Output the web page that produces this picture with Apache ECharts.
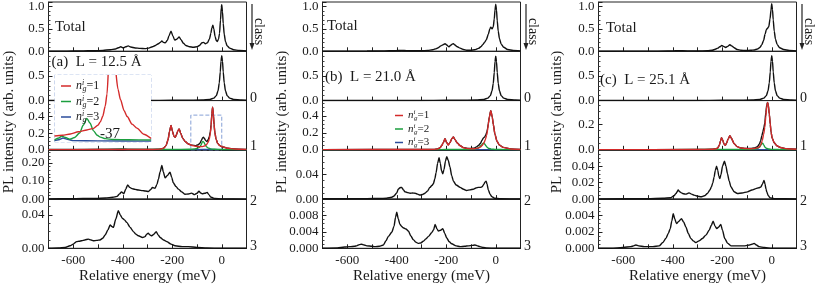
<!DOCTYPE html>
<html><head><meta charset="utf-8">
<script src="https://cdn.jsdelivr.net/npm/echarts@6/dist/echarts.min.js"></script>
<style>html,body{margin:0;padding:0;background:#fff}#c{width:817px;height:287px}</style>
</head><body><div id="c"></div>
<script>
// ---------- Panel (a) L = 12.5 Å ----------
const aTotal=[[-700,0.002],[-650,0.003],[-600,0.006],[-560,0.01],[-520,0.012],[-480,0.02],[-450,0.035],[-430,0.05],[-418,0.08],[-408,0.1],[-398,0.08],[-388,0.1],[-378,0.12],[-368,0.095],[-350,0.075],[-330,0.065],[-310,0.06],[-295,0.07],[-280,0.1],[-268,0.13],[-256,0.17],[-248,0.2],[-242,0.23],[-236,0.2],[-228,0.19],[-220,0.24],[-213,0.35],[-205,0.45],[-198,0.35],[-190,0.25],[-182,0.27],[-172,0.32],[-165,0.26],[-155,0.18],[-145,0.13],[-130,0.1],[-115,0.09],[-100,0.1],[-90,0.13],[-80,0.19],[-74,0.2],[-66,0.17],[-58,0.19],[-50,0.27],[-44,0.4],[-40,0.52],[-36,0.58],[-32,0.5],[-27,0.33],[-22,0.24],[-18,0.22],[-13,0.27],[-9,0.4],[-5,0.7],[-2,0.97],[0,1.04],[3,0.88],[6,0.62],[10,0.38],[15,0.22],[22,0.12],[32,0.07],[48,0.035],[70,0.02],[100,0.01]];
const aC0=[[-700,0.001],[-400,0.002],[-250,0.004],[-150,0.008],[-80,0.012],[-48,0.025],[-32,0.05],[-22,0.1],[-15,0.2],[-10,0.36],[-6,0.58],[-3,0.8],[0,0.91],[3,0.8],[6,0.58],[10,0.36],[15,0.2],[22,0.1],[32,0.05],[48,0.025],[80,0.012],[100,0.008]];
const aC1=[[-700,0.003],[-500,0.004],[-420,0.006],[-400,0.008],[-380,0.005],[-300,0.004],[-260,0.006],[-245,0.01],[-235,0.02],[-225,0.05],[-217,0.12],[-211,0.22],[-205,0.29],[-199,0.22],[-193,0.16],[-188,0.15],[-183,0.18],[-177,0.23],[-172,0.25],[-166,0.2],[-158,0.14],[-148,0.1],[-135,0.07],[-120,0.055],[-105,0.05],[-95,0.06],[-88,0.08],[-82,0.115],[-77,0.145],[-74,0.15],[-70,0.135],[-65,0.11],[-60,0.1],[-55,0.12],[-50,0.16],[-46,0.22],[-43,0.3],[-40,0.43],[-37,0.51],[-34,0.43],[-31,0.3],[-28,0.21],[-23,0.13],[-17,0.08],[-8,0.05],[0,0.04],[10,0.03],[25,0.018],[50,0.009],[100,0.003]];
const aN1=[[-700,0.002],[-500,0.003],[-300,0.003],[-260,0.005],[-245,0.01],[-235,0.02],[-225,0.05],[-217,0.12],[-211,0.22],[-205,0.29],[-199,0.22],[-193,0.16],[-188,0.15],[-183,0.18],[-177,0.23],[-172,0.25],[-166,0.2],[-158,0.14],[-148,0.1],[-135,0.07],[-120,0.052],[-105,0.042],[-90,0.037],[-80,0.038],[-70,0.045],[-62,0.06],[-55,0.09],[-50,0.13],[-46,0.2],[-43,0.29],[-40,0.42],[-37,0.51],[-34,0.43],[-31,0.3],[-28,0.21],[-23,0.13],[-17,0.08],[-8,0.05],[0,0.04],[10,0.03],[25,0.018],[50,0.009],[100,0.003]];
const aN2=[[-700,0.002],[-450,0.003],[-410,0.008],[-400,0.006],[-380,0.003],[-200,0.003],[-130,0.006],[-110,0.01],[-98,0.018],[-90,0.03],[-84,0.055],[-79,0.09],[-76,0.1],[-72,0.09],[-67,0.06],[-61,0.035],[-54,0.02],[-45,0.011],[-30,0.006],[0,0.003],[100,0.001]];
const aN3=[[-700,0.002],[-430,0.003],[-405,0.006],[-390,0.003],[-100,0.002],[-60,0.004],[0,0.002],[100,0.001]];
const aC2=[[-700,0.001],[-620,0.002],[-560,0.003],[-510,0.003],[-470,0.006],[-440,0.01],[-423,0.015],[-412,0.03],[-405,0.04],[-396,0.03],[-388,0.055],[-380,0.078],[-372,0.065],[-363,0.058],[-350,0.054],[-336,0.05],[-320,0.047],[-309,0.045],[-296,0.042],[-288,0.052],[-280,0.064],[-270,0.06],[-262,0.08],[-256,0.11],[-249,0.15],[-242,0.187],[-236,0.15],[-229,0.118],[-220,0.13],[-209,0.149],[-202,0.12],[-196,0.091],[-185,0.07],[-175,0.055],[-162,0.04],[-149,0.027],[-135,0.028],[-122,0.033],[-110,0.025],[-100,0.032],[-92,0.044],[-85,0.034],[-79,0.03],[-68,0.032],[-59,0.037],[-52,0.025],[-45,0.012],[-35,0.006],[-27,0.003],[0,0.001],[100,0]];
const aC3=[[-700,0],[-660,0.0005],[-633,0.001],[-613,0.003],[-600,0.005],[-586,0.008],[-576,0.0085],[-566,0.009],[-553,0.01],[-539,0.011],[-528,0.01],[-519,0.009],[-505,0.0095],[-492,0.01],[-481,0.012],[-471,0.016],[-460,0.022],[-451,0.028],[-444,0.026],[-438,0.025],[-428,0.035],[-418,0.045],[-410,0.04],[-402,0.036],[-393,0.034],[-384,0.031],[-370,0.025],[-357,0.02],[-347,0.017],[-337,0.015],[-320,0.013],[-310,0.014],[-303,0.017],[-297,0.018],[-290,0.016],[-283,0.015],[-274,0.017],[-265,0.02],[-257,0.016],[-249,0.013],[-235,0.01],[-222,0.008],[-205,0.005],[-189,0.003],[-160,0.002],[-135,0.002],[-100,0.001],[-60,0.0005],[0,0],[100,0]];
// inset of panel (a); the n=1 peak leaves the inset through its top edge
const inN1=[[-131,0.027],[-118,0.03],[-105,0.036],[-92,0.046],[-78,0.054],[-67,0.061],[-60,0.075],[-56,0.09],[-52,0.115],[-48,0.16],[-45,0.215],[-43.2,0.3],[-37,null],[-30,0.3],[-27,0.235],[-23,0.19],[-17,0.14],[-12,0.114],[-4,0.08],[4,0.062],[15,0.035],[27,0.016]];
const inN2=[[-131,0.01],[-124,0.018],[-119,0.027],[-113,0.02],[-106,0.013],[-98,0.02],[-90,0.04],[-84,0.075],[-78,0.106],[-73,0.085],[-67,0.05],[-61,0.03],[-56,0.022],[-48,0.015],[-35,0.011],[-10,0.01],[27,0.009]];
const inN3=[[-131,0.006],[-124,0.01],[-117,0.018],[-110,0.012],[-100,0.006],[-60,0.005],[27,0.004]];
// ---------- Panel (b) L = 21.0 Å ----------
const bTotal=[[-700,0.002],[-600,0.004],[-520,0.006],[-450,0.01],[-410,0.012],[-395,0.018],[-380,0.02],[-360,0.015],[-330,0.012],[-300,0.012],[-275,0.02],[-255,0.035],[-240,0.06],[-232,0.08],[-222,0.12],[-212,0.15],[-205,0.17],[-198,0.14],[-190,0.1],[-183,0.13],[-176,0.16],[-171,0.17],[-165,0.14],[-155,0.1],[-144,0.07],[-130,0.04],[-118,0.025],[-100,0.025],[-85,0.035],[-70,0.065],[-60,0.1],[-52,0.15],[-45,0.2],[-38,0.26],[-30,0.38],[-24,0.5],[-20,0.54],[-15,0.5],[-10,0.55],[-6,0.72],[-3,0.92],[0,1.05],[3,0.92],[6,0.68],[10,0.45],[15,0.28],[22,0.16],[32,0.09],[48,0.04],[70,0.02],[100,0.01]];
const bC0=[[-700,0.001],[-400,0.002],[-250,0.004],[-150,0.008],[-80,0.012],[-48,0.025],[-32,0.05],[-22,0.1],[-15,0.2],[-10,0.35],[-6,0.57],[-3,0.79],[0,0.9],[3,0.79],[6,0.57],[10,0.35],[15,0.2],[22,0.1],[32,0.05],[48,0.025],[80,0.012],[100,0.008]];
const bC1=[[-700,0.002],[-300,0.003],[-250,0.005],[-235,0.01],[-225,0.025],[-218,0.05],[-212,0.085],[-205,0.13],[-199,0.09],[-192,0.058],[-185,0.085],[-177,0.135],[-171,0.15],[-165,0.12],[-155,0.08],[-145,0.05],[-130,0.026],[-115,0.016],[-100,0.015],[-88,0.02],[-78,0.035],[-70,0.05],[-62,0.075],[-56,0.11],[-50,0.14],[-45,0.15],[-40,0.175],[-36,0.21],[-33,0.25],[-30,0.31],[-26,0.385],[-20,0.46],[-14,0.385],[-10,0.3],[-3,0.18],[5,0.1],[15,0.055],[30,0.028],[60,0.01],[100,0.004]];
const bN1=[[-700,0.002],[-300,0.003],[-250,0.005],[-235,0.01],[-225,0.025],[-218,0.05],[-212,0.085],[-205,0.13],[-199,0.09],[-192,0.055],[-185,0.085],[-177,0.135],[-171,0.15],[-165,0.12],[-155,0.08],[-145,0.05],[-130,0.025],[-115,0.015],[-100,0.012],[-85,0.013],[-72,0.02],[-62,0.032],[-55,0.05],[-48,0.08],[-42,0.12],[-37,0.17],[-33,0.23],[-30,0.3],[-26,0.385],[-20,0.46],[-14,0.385],[-10,0.3],[-3,0.18],[5,0.1],[15,0.055],[30,0.028],[60,0.01],[100,0.004]];
const bN2=[[-700,0.001],[-250,0.002],[-200,0.003],[-120,0.004],[-90,0.008],[-75,0.016],[-66,0.03],[-58,0.055],[-52,0.075],[-49,0.08],[-45,0.07],[-40,0.048],[-34,0.028],[-28,0.016],[-18,0.008],[0,0.004],[40,0.002],[100,0.001]];
const bN3=[[-700,0.001],[-300,0.002],[-100,0.002],[0,0.001],[100,0.001]];
const bC2=[[-700,0.0005],[-520,0.0008],[-470,0.001],[-441,0.0015],[-420,0.003],[-411,0.005],[-400,0.01],[-394,0.016],[-387,0.0185],[-380,0.019],[-373,0.015],[-367,0.012],[-356,0.0105],[-346,0.0096],[-336,0.0098],[-326,0.0096],[-316,0.008],[-306,0.0065],[-296,0.0075],[-286,0.0096],[-276,0.013],[-266,0.019],[-258,0.022],[-252,0.025],[-246,0.033],[-241,0.043],[-235,0.058],[-229,0.067],[-224,0.058],[-219,0.046],[-214,0.041],[-209,0.048],[-203,0.062],[-198,0.069],[-192,0.063],[-185,0.052],[-178,0.038],[-171,0.029],[-160,0.023],[-144,0.019],[-130,0.016],[-118,0.014],[-104,0.015],[-91,0.016],[-80,0.018],[-70,0.019],[-62,0.019],[-55,0.02],[-48,0.024],[-43,0.028],[-39,0.029],[-35,0.024],[-30,0.015],[-23,0.008],[-16,0.004],[-5,0.0015],[20,0.0005],[100,0.0003]];
const bC3=[[-700,0],[-640,0.0001],[-610,0.0003],[-589,0.0004],[-570,0.0005],[-562,0.0006],[-551,0.0009],[-542,0.001],[-532,0.0008],[-521,0.0006],[-500,0.0005],[-488,0.0004],[-470,0.0005],[-454,0.0008],[-444,0.0018],[-434,0.0029],[-420,0.0039],[-411,0.0054],[-405,0.0075],[-400,0.0088],[-394,0.0072],[-387,0.0058],[-380,0.0053],[-374,0.005],[-363,0.0047],[-353,0.0042],[-343,0.003],[-333,0.0021],[-323,0.0015],[-313,0.0012],[-303,0.0013],[-293,0.0017],[-282,0.0023],[-272,0.0029],[-259,0.0038],[-251,0.0045],[-245,0.0058],[-238,0.0048],[-232,0.0042],[-223,0.0044],[-214,0.0048],[-206,0.0036],[-198,0.0025],[-188,0.0016],[-178,0.0011],[-160,0.0006],[-144,0.0004],[-125,0.0005],[-111,0.0006],[-95,0.0007],[-84,0.0008],[-74,0.0006],[-64,0.0004],[-50,0.0002],[-37,0.0001],[0,0],[100,0]];
// ---------- Panel (c) L = 25.1 Å ----------
const cTotal=[[-700,0.002],[-600,0.003],[-500,0.004],[-420,0.006],[-398,0.01],[-380,0.012],[-340,0.01],[-300,0.008],[-260,0.012],[-240,0.025],[-228,0.045],[-218,0.07],[-210,0.1],[-202,0.13],[-195,0.11],[-186,0.085],[-178,0.11],[-169,0.145],[-162,0.12],[-152,0.08],[-140,0.04],[-125,0.022],[-105,0.018],[-85,0.022],[-70,0.03],[-58,0.05],[-47,0.09],[-40,0.15],[-33,0.24],[-27,0.38],[-22,0.48],[-18,0.51],[-12,0.55],[-7,0.72],[-3,0.92],[0,1.06],[3,0.93],[6,0.7],[10,0.45],[15,0.27],[22,0.15],[32,0.08],[48,0.04],[70,0.02],[100,0.01]];
const cC0=[[-700,0.001],[-400,0.002],[-250,0.004],[-150,0.008],[-80,0.012],[-48,0.025],[-32,0.05],[-22,0.1],[-15,0.2],[-10,0.36],[-6,0.58],[-3,0.8],[0,0.91],[3,0.8],[6,0.58],[10,0.36],[15,0.2],[22,0.1],[32,0.05],[48,0.025],[80,0.012],[100,0.008]];
const cC1=[[-700,0.001],[-300,0.002],[-240,0.004],[-225,0.008],[-218,0.015],[-212,0.035],[-207,0.07],[-203,0.094],[-198,0.075],[-193,0.045],[-188,0.035],[-183,0.05],[-176,0.085],[-169,0.11],[-163,0.09],[-152,0.048],[-140,0.025],[-125,0.014],[-105,0.01],[-85,0.01],[-70,0.014],[-58,0.025],[-50,0.045],[-45,0.07],[-40,0.11],[-36,0.14],[-32,0.17],[-28,0.21],[-24,0.29],[-20,0.35],[-17,0.37],[-14,0.35],[-10,0.28],[-6,0.2],[-3,0.14],[2,0.09],[10,0.055],[20,0.032],[35,0.018],[60,0.008],[100,0.004]];
const cN1=[[-700,0.001],[-300,0.002],[-240,0.004],[-225,0.008],[-218,0.015],[-212,0.035],[-207,0.07],[-203,0.094],[-198,0.075],[-193,0.045],[-188,0.035],[-183,0.05],[-176,0.085],[-169,0.11],[-163,0.09],[-152,0.048],[-140,0.025],[-125,0.014],[-105,0.01],[-85,0.008],[-70,0.01],[-58,0.015],[-51,0.022],[-44,0.04],[-38,0.073],[-33,0.12],[-28,0.175],[-24,0.26],[-20,0.34],[-17,0.37],[-14,0.35],[-10,0.28],[-6,0.2],[-3,0.14],[2,0.09],[10,0.055],[20,0.032],[35,0.018],[60,0.008],[100,0.004]];
const cN2=[[-700,0.001],[-200,0.002],[-100,0.003],[-70,0.006],[-58,0.01],[-50,0.02],[-44,0.035],[-40,0.05],[-37,0.052],[-33,0.04],[-28,0.022],[-22,0.012],[-12,0.006],[0,0.003],[50,0.001],[100,0.001]];
const cN3=[[-700,0.001],[-300,0.001],[-100,0.001],[100,0.001]];
const cC2=[[-700,0.0003],[-500,0.0005],[-440,0.001],[-408,0.0016],[-395,0.004],[-387,0.0069],[-382,0.009],[-378,0.011],[-372,0.009],[-365,0.0076],[-356,0.0065],[-347,0.006],[-340,0.0068],[-334,0.0076],[-324,0.006],[-314,0.0048],[-300,0.0035],[-286,0.0028],[-272,0.004],[-260,0.0068],[-250,0.011],[-244,0.0148],[-238,0.02],[-233,0.0268],[-228,0.035],[-223,0.04],[-218,0.035],[-214,0.028],[-210,0.025],[-205,0.03],[-199,0.04],[-191,0.046],[-185,0.04],[-179,0.031],[-172,0.022],[-165,0.015],[-152,0.009],[-139,0.0068],[-120,0.0075],[-98,0.0088],[-80,0.011],[-64,0.0128],[-52,0.0138],[-44,0.0148],[-38,0.018],[-34,0.021],[-31,0.0228],[-27,0.018],[-23,0.012],[-20,0.0088],[-14,0.004],[-6,0.0015],[10,0.0005],[100,0.0002]];
const cC3=[[-700,0],[-650,0],[-600,0.0001],[-569,0.0002],[-558,0.0003],[-549,0.0004],[-538,0.0003],[-515,0.0002],[-480,0.0002],[-455,0.0003],[-440,0.0007],[-428,0.0012],[-418,0.0018],[-410,0.0024],[-404,0.0033],[-398,0.0042],[-392,0.0036],[-385,0.003],[-375,0.0033],[-365,0.0036],[-356,0.0032],[-347,0.0026],[-337,0.0018],[-327,0.0012],[-317,0.0009],[-307,0.0007],[-294,0.0009],[-280,0.0012],[-266,0.0016],[-253,0.0022],[-244,0.0028],[-237,0.0033],[-229,0.0027],[-222,0.0024],[-214,0.0026],[-206,0.0029],[-199,0.0022],[-190,0.0012],[-178,0.0006],[-165,0.0003],[-140,0.0003],[-108,0.0003],[-90,0.0004],[-80,0.0005],[-71,0.0006],[-62,0.0004],[-51,0.0002],[-30,0.0001],[0,0],[100,0]];

// axis settings
const xRange=[-700,100];
const xTickLabels=[-600,-400,-200,0];
const yMaxA=[1.1,1.0,0.59,0.273,0.059], yIntA=[0.5,0.5,0.2,0.1,0.04], yDecA=[1,1,1,2,2], yMinA=[5,5,4,5,4];
const yMaxB=[1.1,1.0,0.58,0.08,0.012], yIntB=[0.5,0.5,0.2,0.04,0.004], yDecB=[1,1,1,2,3], yMinB=[5,5,4,4,4];
const yMaxC=[1.1,1.0,0.385,0.06,0.006], yIntC=[0.5,0.5,0.2,0.02,0.002], yDecC=[1,1,1,2,3], yMinC=[5,5,4,4,4];
const panelTitles=['(a)  L = 12.5 Å','(b)  L = 21.0 Å','(c)  L = 25.1 Å'];
const classNames=['0','1','2','3'];
const legendNames=['n1','n2','n3'];
const insetLabel='-37';

// layout
const F='Liberation Serif';
const TXT='#1a1a1a', BLK='#111', RED='#d42a2a', GRN='#1b9e3e', BLU='#2b4c9b', DASH='#86a0d6';
const lefts=[48.5,322.5,598.5], W=198;
const tops=[2,51.3,100.5,149.8,199], H=49.3;

const panels=[
 {rows:[aTotal,aC0,aC1,aC2,aC3], n:[aN1,aN2,aN3], ymax:yMaxA, yint:yIntA, ydec:yDecA, ymin:yMinA},
 {rows:[bTotal,bC0,bC1,bC2,bC3], n:[bN1,bN2,bN3], ymax:yMaxB, yint:yIntB, ydec:yDecB, ymin:yMinB},
 {rows:[cTotal,cC0,cC1,cC2,cC3], n:[cN1,cN2,cN3], ymax:yMaxC, yint:yIntC, ydec:yDecC, ymin:yMinC}
];

const grid=[], xAxis=[], yAxis=[], series=[];
function line(data,g,color,name,z,extra){
  return Object.assign({type:'line',name:name,xAxisIndex:g,yAxisIndex:g,data:data,symbol:'none',showSymbol:false,
    smooth:0.25,smoothMonotone:'x',connectNulls:false,lineStyle:{color:color,width:1.4},itemStyle:{color:color},z:z||2,silent:true,animation:false},extra||{});
}
panels.forEach((P,p)=>{
  for(let r=0;r<5;r++){
    const g=p*5+r;
    grid.push({left:lefts[p],top:tops[r],width:W,height:H,show:true,borderColor:'#222',borderWidth:1,backgroundColor:'rgba(0,0,0,0)',outerBoundsMode:'none',containLabel:false});
    xAxis.push({type:'value',gridIndex:g,min:xRange[0],max:xRange[1],interval:100,
      axisLine:{show:true,onZero:false,lineStyle:{color:'#222',width:1}},
      axisTick:{show:true,inside:true,length:4,lineStyle:{color:'#222'}},
      minorTick:{show:false},splitLine:{show:false},
      axisLabel:{show:r===4,margin:6,fontFamily:F,fontSize:13,color:TXT,
        formatter:v=>xTickLabels.indexOf(v)>=0?String(v):''}});
    const d=P.ydec[r];
    yAxis.push({type:'value',gridIndex:g,min:0,max:P.ymax[r],interval:P.yint[r],
      axisLine:{show:true,onZero:false,lineStyle:{color:'#222',width:1}},
      axisTick:{show:true,inside:true,length:4,lineStyle:{color:'#222'}},
      minorTick:{show:true,splitNumber:P.ymin[r],length:2,lineStyle:{color:'#444'}},
      splitLine:{show:false},
      axisLabel:{show:true,margin:4,fontFamily:F,fontSize:13,color:TXT,showMaxLabel:false,
        formatter:v=>Number(v).toFixed(d)}});
    if(r===2){
      const extra=(p===0)?{clip:false,markArea:{silent:true,itemStyle:{color:'rgba(0,0,0,0)',borderColor:DASH,borderWidth:1,borderType:'dashed'},
        data:[[{coord:[-125,-0.046]},{coord:[0,0.415]}]]}}:{};
      series.push(line(P.rows[r],g,BLK,'class1',2,extra));
      series.push(line(P.n[2],g,BLU,'n3',3));
      series.push(line(P.n[1],g,GRN,'n2',3));
      series.push(line(P.n[0],g,RED,'n1',4));
    } else {
      series.push(line(P.rows[r],g,BLK,'c'+r,2));
    }
  }
});
// inset grid (index 15)
grid.push({left:54.5,top:75,width:96.5,height:67,show:true,backgroundColor:'#fff',borderWidth:0,z:10,outerBoundsMode:'none',containLabel:false});
xAxis.push({type:'value',gridIndex:15,min:-131,max:27,show:false,z:10});
yAxis.push({type:'value',gridIndex:15,min:0,max:0.3,show:false,z:10});
series.push(line(inN3,15,BLU,'n3',11));
series.push(line(inN2,15,GRN,'n2',11));
series.push(line(inN1,15,RED,'n1',12,{markArea:{silent:true,itemStyle:{color:'rgba(0,0,0,0)',borderColor:DASH,borderWidth:1,borderType:'dashed'},
  data:[[{coord:[-130.7,0.001]},{coord:[26.7,0.299]}]]}}));

const rich=(fs)=>({
  n:{fontFamily:F,fontStyle:'italic',fontSize:fs,color:TXT,lineHeight:fs+2},
  sup:{fontFamily:F,fontStyle:'italic',fontSize:fs-4,color:TXT,verticalAlign:'top',width:0.5,lineHeight:fs-3},
  sub:{fontFamily:F,fontStyle:'italic',fontSize:fs-4,color:TXT,verticalAlign:'bottom',lineHeight:fs-3},
  t:{fontFamily:F,fontSize:fs,color:TXT,lineHeight:fs+2}
});
const legFmt=name=>'{n|n}{sup|i}{sub|g}{t|='+name.slice(1)+'}';
const legend=[
  {data:legendNames,orient:'vertical',left:56,top:74,icon:'rect',itemWidth:10,itemHeight:1.5,itemGap:1.5,z:30,selectedMode:false,
   formatter:legFmt,textStyle:{rich:rich(12)}},
  {data:legendNames,orient:'vertical',left:390,top:104,icon:'rect',itemWidth:8,itemHeight:1.5,itemGap:0.5,z:30,selectedMode:false,
   formatter:legFmt,textStyle:{rich:rich(11)}}
];

// texts
const graphic=[];
function txt(s,x,y,opt){graphic.push(Object.assign({type:'text',x:x,y:y,z:100,silent:true,style:Object.assign({text:s,fontFamily:F,fontSize:15,fill:TXT,align:'left',verticalAlign:'middle'},opt&&opt.style||{})},opt&&opt.el||{}));}
const totalPos=[[55,27],[327,26],[606,28]];
const titlePos=[[51.5,62],[325,77],[600,80]];
const yTitleX=[9,282.5,557.5];
const digitY=[98.5,146.5,201,246];
for(let p=0;p<3;p++){
  const R=lefts[p]+W;
  txt('Total',totalPos[p][0],totalPos[p][1]);
  txt(panelTitles[p],titlePos[p][0],titlePos[p][1]);
  txt('PL intensity (arb. units)',yTitleX[p],122,{style:{align:'center'},el:{rotation:Math.PI/2}});
  txt('Relative energy (meV)',lefts[p]+W/2,276,{style:{align:'center'}});
  txt('class',R+12.5,31.5,{style:{align:'center',fontSize:14},el:{rotation:-Math.PI/2}});
  for(let k=0;k<4;k++) txt(classNames[k],R+3.5,digitY[k],{style:{fontSize:14}});
  graphic.push({type:'line',z:100,silent:true,shape:{x1:R+5.5,y1:4,x2:R+5.5,y2:46},style:{stroke:'#222',lineWidth:1.2}});
  graphic.push({type:'polygon',z:100,silent:true,shape:{points:[[R+3,43],[R+8,43],[R+5.5,50]]},style:{fill:'#222'}});
}
txt(insetLabel,110,134,{style:{align:'center',fontSize:15}});

const chart=echarts.init(document.getElementById('c'),null,{renderer:'canvas'});
chart.setOption({animation:false,backgroundColor:'#fff',grid,xAxis,yAxis,series,legend,graphic});
</script></body></html>
